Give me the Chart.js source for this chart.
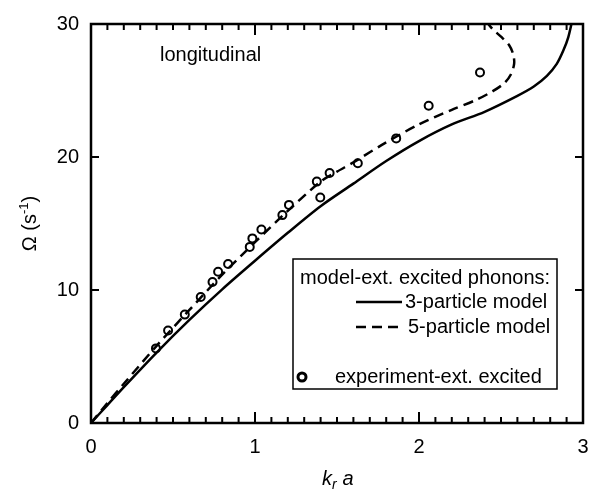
<!DOCTYPE html>
<html>
<head>
<meta charset="utf-8">
<script src="https://cdn.jsdelivr.net/npm/chart.js@4"></script>
<style>
  body { margin: 0; background: #fff; }
  #wrap { width: 602px; height: 493px; }
</style>
</head>
<body>
<div id="wrap"><canvas id="chart" width="602" height="493"></canvas></div>
<script>
// experiment-ext. excited phonons
var expK = [0.396, 0.470, 0.572, 0.669, 0.741, 0.775, 0.836, 0.968, 0.984, 1.039,
            1.167, 1.207, 1.377, 1.398, 1.455, 1.627, 1.861, 2.059, 2.372];
var expOmega = [5.61, 6.96, 8.15, 9.47, 10.60, 11.37, 11.96, 13.24, 13.88, 14.55,
                15.63, 16.40, 18.15, 16.96, 18.80, 19.53, 21.40, 23.86, 26.35];

// 3-particle model (solid)
var model3K = [0, 0.1, 0.2, 0.4, 0.6, 0.8, 1.0, 1.2, 1.4, 1.6, 1.8, 2.0, 2.2, 2.4,
               2.6, 2.7, 2.78, 2.84, 2.88, 2.91, 2.935];
var model3Omega = [0, 1.35, 2.7, 5.3, 7.75, 10.05, 12.2, 14.3, 16.3, 18.0, 19.7, 21.2,
                   22.45, 23.4, 24.6, 25.3, 26.1, 27.0, 28.0, 29.0, 30.3];

// 5-particle model (dashed), bends back at the top
var model5K = [0, 0.1, 0.2, 0.4, 0.6, 0.8, 1.0, 1.2, 1.4, 1.5, 1.6, 1.8, 2.0, 2.2,
               2.35, 2.45, 2.52, 2.56, 2.58, 2.575, 2.55, 2.5, 2.45, 2.41];
var model5Omega = [0, 1.5, 2.95, 5.8, 8.5, 11.15, 13.6, 15.95, 18.15, 18.9, 19.6, 21.1,
                   22.45, 23.55, 24.3, 24.95, 25.55, 26.2, 27.0, 27.7, 28.4, 29.05, 29.6, 30.2];

var xTicks = [0, 1, 2, 3];
var yTicks = [0, 10, 20, 30];

var FONT = '"Liberation Sans", Arial, Helvetica, sans-serif';

function pts(xs, ys) {
    return xs.map(function (v, i) { return {x: v, y: ys[i]}; });
}

// frame, inward ticks, axis titles, annotation and legend box
var decor = {
    id: 'decor',
    afterDatasetsDraw: function (chart) {
        var ctx = chart.ctx, a = chart.chartArea;
        var xs = chart.scales.x, ys = chart.scales.y;
        ctx.save();
        ctx.strokeStyle = '#000';
        ctx.fillStyle = '#000';

        // ticks on x (bottom + top), minor every 0.1
        ctx.lineWidth = 2;
        for (var i = 0; i <= 30; i++) {
            var px = xs.getPixelForValue(i / 10);
            var len = i % 10 === 0 ? 11 : 6;
            ctx.beginPath();
            ctx.moveTo(px, a.bottom); ctx.lineTo(px, a.bottom - len);
            ctx.moveTo(px, a.top); ctx.lineTo(px, a.top + len);
            ctx.stroke();
        }
        // ticks on y (left + right)
        yTicks.forEach(function (v) {
            var py = ys.getPixelForValue(v);
            ctx.beginPath();
            ctx.moveTo(a.left, py); ctx.lineTo(a.left + 8, py);
            ctx.moveTo(a.right, py); ctx.lineTo(a.right - 8, py);
            ctx.stroke();
        });

        // frame
        ctx.lineWidth = 2.5;
        ctx.strokeRect(a.left, a.top, a.right - a.left, a.bottom - a.top);

        // x title: k_r a
        ctx.textBaseline = 'alphabetic';
        ctx.textAlign = 'left';
        var cx = (a.left + a.right) / 2 - 15, by = 485;
        ctx.font = 'italic 20px ' + FONT;
        ctx.fillText('k', cx, by);
        var w = ctx.measureText('k').width;
        ctx.font = 'italic 14px ' + FONT;
        ctx.fillText('r', cx + w, by + 4);
        var w2 = ctx.measureText('r ').width;
        ctx.font = 'italic 20px ' + FONT;
        ctx.fillText('a', cx + w + w2 + 2, by);

        // y title: Ω (s-1)
        ctx.save();
        ctx.translate(36, (a.top + a.bottom) / 2);
        ctx.rotate(-Math.PI / 2);
        ctx.font = '20px ' + FONT;
        var t1 = '\u03A9 (s', t2 = '-1', t3 = ')';
        ctx.font = '20px ' + FONT;
        var w1 = ctx.measureText(t1).width, w3 = ctx.measureText(t3).width;
        ctx.font = '13px ' + FONT;
        var wsup = ctx.measureText(t2).width;
        var start = -(w1 + wsup + w3) / 2;
        ctx.font = '20px ' + FONT;
        ctx.fillText(t1, start, 0);
        ctx.font = '13px ' + FONT;
        ctx.fillText(t2, start + w1, -8);
        ctx.font = '20px ' + FONT;
        ctx.fillText(t3, start + w1 + wsup, 0);
        ctx.restore();

        // annotation
        ctx.font = '20px ' + FONT;
        ctx.textBaseline = 'middle';
        ctx.fillText('longitudinal', 160, 55);

        // legend box
        ctx.fillStyle = '#fff';
        ctx.fillRect(293, 259, 264, 130);
        ctx.lineWidth = 1.5;
        ctx.strokeRect(293, 259, 264, 130);
        ctx.fillStyle = '#000';
        ctx.fillText('model-ext. excited phonons:', 300, 278);
        ctx.fillText('3-particle model', 405, 302);
        ctx.fillText('5-particle model', 408, 327);
        ctx.fillText('experiment-ext. excited', 335, 377);
        ctx.lineWidth = 2.5;
        ctx.beginPath();
        ctx.moveTo(356, 302); ctx.lineTo(402, 302);
        ctx.stroke();
        ctx.setLineDash([10, 6]);
        ctx.beginPath();
        ctx.moveTo(356, 327); ctx.lineTo(398, 327);
        ctx.stroke();
        ctx.setLineDash([]);
        ctx.lineWidth = 3;
        ctx.beginPath();
        ctx.arc(302, 377, 4, 0, Math.PI * 2);
        ctx.stroke();
        ctx.restore();
    }
};

new Chart(document.getElementById('chart').getContext('2d'), {
    type: 'line',
    data: {
        datasets: [
            {
                label: '3-particle model',
                data: pts(model3K, model3Omega),
                borderColor: '#000',
                borderWidth: 2.5,
                pointRadius: 0,
                tension: 0.3,
                fill: false
            },
            {
                label: '5-particle model',
                data: pts(model5K, model5Omega),
                borderColor: '#000',
                borderWidth: 2.5,
                borderDash: [10, 6],
                pointRadius: 0,
                tension: 0.3,
                fill: false
            },
            {
                label: 'experiment-ext. excited',
                data: pts(expK, expOmega),
                showLine: false,
                pointRadius: 4,
                pointBorderWidth: 2,
                pointBorderColor: '#000',
                pointBackgroundColor: 'rgba(0,0,0,0)'
            }
        ]
    },
    options: {
        responsive: false,
        animation: false,
        layout: { padding: { top: 7, right: 19, left: 0, bottom: 0 } },
        plugins: { legend: { display: false }, tooltip: { enabled: false } },
        scales: {
            x: {
                type: 'linear',
                min: 0, max: 3,
                afterFit: function (s) { s.height = 70; },
                afterBuildTicks: function (s) { s.ticks = xTicks.map(function (v) { return {value: v}; }); },
                grid: { display: false, drawTicks: false },
                border: { display: false },
                ticks: { color: '#000', font: { family: FONT, size: 20 }, padding: 12, maxRotation: 0 }
            },
            y: {
                min: 0, max: 30,
                afterFit: function (s) { s.width = 91; },
                afterBuildTicks: function (s) { s.ticks = yTicks.map(function (v) { return {value: v}; }); },
                grid: { display: false, drawTicks: false },
                border: { display: false },
                ticks: { color: '#000', font: { family: FONT, size: 20 }, padding: 12 }
            }
        }
    },
    plugins: [decor]
});
</script>
</body>
</html>
